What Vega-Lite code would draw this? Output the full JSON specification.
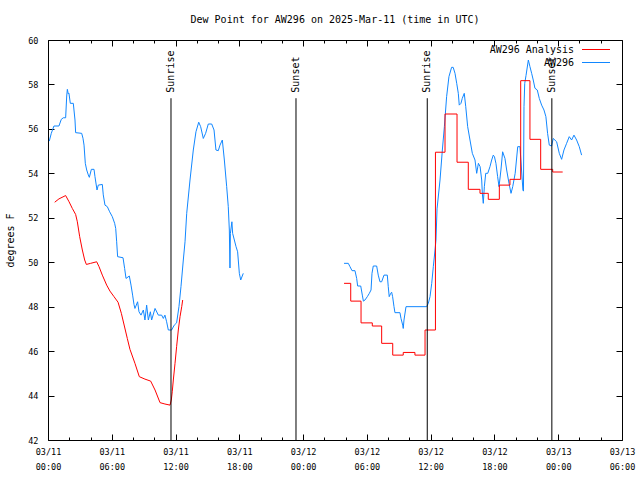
{
  "$schema": "https://vega.github.io/schema/vega-lite/v6.json",
  "width": 574,
  "height": 400,
  "autosize": "none",
  "padding": {"left": 48, "top": 40, "right": 18, "bottom": 40},
  "background": "white",
  "title": {"text": "Dew Point for AW296 on 2025-Mar-11 (time in UTC)", "font": "DejaVu Sans Mono", "fontSize": 10, "fontWeight": "normal", "color": "black", "anchor": "middle", "offset": 11},
  "config": {
    "view": {"stroke": "black", "strokeWidth": 1},
    "axis": {"domain": false, "grid": false, "tickColor": "black", "labelColor": "black", "labelFont": "DejaVu Sans Mono", "labelFontSize": 8.5, "titleFont": "DejaVu Sans Mono", "titleFontSize": 10, "titleFontWeight": "normal", "titleColor": "black"}
  },
  "datasets": {
    "obs": [
      {"series": "AW296", "seg": 1, "hour": 0.12, "dew": 55.45},
      {"series": "AW296", "seg": 1, "hour": 0.31, "dew": 55.8},
      {"series": "AW296", "seg": 1, "hour": 0.56, "dew": 56.13},
      {"series": "AW296", "seg": 1, "hour": 1.03, "dew": 56.13},
      {"series": "AW296", "seg": 1, "hour": 1.25, "dew": 56.43},
      {"series": "AW296", "seg": 1, "hour": 1.44, "dew": 56.5},
      {"series": "AW296", "seg": 1, "hour": 1.66, "dew": 56.5},
      {"series": "AW296", "seg": 1, "hour": 1.76, "dew": 57.48},
      {"series": "AW296", "seg": 1, "hour": 1.82, "dew": 57.78},
      {"series": "AW296", "seg": 1, "hour": 1.91, "dew": 57.57},
      {"series": "AW296", "seg": 1, "hour": 1.97, "dew": 57.6},
      {"series": "AW296", "seg": 1, "hour": 2.1, "dew": 57.15},
      {"series": "AW296", "seg": 1, "hour": 2.38, "dew": 57.15},
      {"series": "AW296", "seg": 1, "hour": 2.54, "dew": 56.4},
      {"series": "AW296", "seg": 1, "hour": 2.6, "dew": 55.83},
      {"series": "AW296", "seg": 1, "hour": 3.17, "dew": 55.8},
      {"series": "AW296", "seg": 1, "hour": 3.29, "dew": 55.58},
      {"series": "AW296", "seg": 1, "hour": 3.39, "dew": 55.27},
      {"series": "AW296", "seg": 1, "hour": 3.51, "dew": 54.45},
      {"series": "AW296", "seg": 1, "hour": 3.64, "dew": 54.15},
      {"series": "AW296", "seg": 1, "hour": 3.79, "dew": 53.93},
      {"series": "AW296", "seg": 1, "hour": 3.89, "dew": 53.82},
      {"series": "AW296", "seg": 1, "hour": 4.08, "dew": 54.18},
      {"series": "AW296", "seg": 1, "hour": 4.33, "dew": 54.18},
      {"series": "AW296", "seg": 1, "hour": 4.42, "dew": 53.85},
      {"series": "AW296", "seg": 1, "hour": 4.61, "dew": 53.25},
      {"series": "AW296", "seg": 1, "hour": 4.73, "dew": 53.47},
      {"series": "AW296", "seg": 1, "hour": 5.11, "dew": 53.5},
      {"series": "AW296", "seg": 1, "hour": 5.2, "dew": 53.03},
      {"series": "AW296", "seg": 1, "hour": 5.36, "dew": 52.57},
      {"series": "AW296", "seg": 1, "hour": 5.58, "dew": 52.5},
      {"series": "AW296", "seg": 1, "hour": 5.8, "dew": 52.27},
      {"series": "AW296", "seg": 1, "hour": 6.05, "dew": 52.05},
      {"series": "AW296", "seg": 1, "hour": 6.27, "dew": 51.75},
      {"series": "AW296", "seg": 1, "hour": 6.37, "dew": 51.52},
      {"series": "AW296", "seg": 1, "hour": 6.46, "dew": 50.92},
      {"series": "AW296", "seg": 1, "hour": 6.55, "dew": 50.25},
      {"series": "AW296", "seg": 1, "hour": 7.06, "dew": 50.2},
      {"series": "AW296", "seg": 1, "hour": 7.21, "dew": 49.72},
      {"series": "AW296", "seg": 1, "hour": 7.34, "dew": 49.27},
      {"series": "AW296", "seg": 1, "hour": 7.65, "dew": 49.38},
      {"series": "AW296", "seg": 1, "hour": 7.81, "dew": 48.97},
      {"series": "AW296", "seg": 1, "hour": 7.96, "dew": 48.52},
      {"series": "AW296", "seg": 1, "hour": 8.09, "dew": 48.1},
      {"series": "AW296", "seg": 1, "hour": 8.18, "dew": 47.92},
      {"series": "AW296", "seg": 1, "hour": 8.43, "dew": 48.22},
      {"series": "AW296", "seg": 1, "hour": 8.56, "dew": 47.77},
      {"series": "AW296", "seg": 1, "hour": 8.75, "dew": 47.62},
      {"series": "AW296", "seg": 1, "hour": 8.97, "dew": 47.85},
      {"series": "AW296", "seg": 1, "hour": 9.12, "dew": 47.4},
      {"series": "AW296", "seg": 1, "hour": 9.28, "dew": 48.07},
      {"series": "AW296", "seg": 1, "hour": 9.44, "dew": 47.4},
      {"series": "AW296", "seg": 1, "hour": 9.63, "dew": 47.77},
      {"series": "AW296", "seg": 1, "hour": 9.75, "dew": 47.4},
      {"series": "AW296", "seg": 1, "hour": 10.07, "dew": 47.92},
      {"series": "AW296", "seg": 1, "hour": 10.38, "dew": 47.62},
      {"series": "AW296", "seg": 1, "hour": 10.69, "dew": 47.62},
      {"series": "AW296", "seg": 1, "hour": 10.85, "dew": 47.47},
      {"series": "AW296", "seg": 1, "hour": 11.0, "dew": 47.62},
      {"series": "AW296", "seg": 1, "hour": 11.16, "dew": 47.32},
      {"series": "AW296", "seg": 1, "hour": 11.32, "dew": 46.95},
      {"series": "AW296", "seg": 1, "hour": 11.63, "dew": 46.95},
      {"series": "AW296", "seg": 1, "hour": 11.88, "dew": 47.17},
      {"series": "AW296", "seg": 1, "hour": 12.1, "dew": 47.27},
      {"series": "AW296", "seg": 1, "hour": 12.32, "dew": 48.0},
      {"series": "AW296", "seg": 1, "hour": 12.51, "dew": 48.9},
      {"series": "AW296", "seg": 1, "hour": 12.73, "dew": 50.1},
      {"series": "AW296", "seg": 1, "hour": 12.89, "dew": 50.92},
      {"series": "AW296", "seg": 1, "hour": 13.05, "dew": 52.2},
      {"series": "AW296", "seg": 1, "hour": 13.36, "dew": 53.7},
      {"series": "AW296", "seg": 1, "hour": 13.67, "dew": 55.05},
      {"series": "AW296", "seg": 1, "hour": 13.92, "dew": 55.87},
      {"series": "AW296", "seg": 1, "hour": 14.18, "dew": 56.3},
      {"series": "AW296", "seg": 1, "hour": 14.36, "dew": 56.1},
      {"series": "AW296", "seg": 1, "hour": 14.61, "dew": 55.57},
      {"series": "AW296", "seg": 1, "hour": 14.83, "dew": 55.8},
      {"series": "AW296", "seg": 1, "hour": 15.08, "dew": 56.22},
      {"series": "AW296", "seg": 1, "hour": 15.4, "dew": 56.22},
      {"series": "AW296", "seg": 1, "hour": 15.62, "dew": 55.95},
      {"series": "AW296", "seg": 1, "hour": 15.8, "dew": 55.05},
      {"series": "AW296", "seg": 1, "hour": 16.02, "dew": 55.02},
      {"series": "AW296", "seg": 1, "hour": 16.18, "dew": 55.27},
      {"series": "AW296", "seg": 1, "hour": 16.4, "dew": 55.5},
      {"series": "AW296", "seg": 1, "hour": 16.59, "dew": 54.6},
      {"series": "AW296", "seg": 1, "hour": 16.81, "dew": 53.4},
      {"series": "AW296", "seg": 1, "hour": 16.96, "dew": 52.5},
      {"series": "AW296", "seg": 1, "hour": 17.06, "dew": 51.45},
      {"series": "AW296", "seg": 1, "hour": 17.12, "dew": 49.74},
      {"series": "AW296", "seg": 1, "hour": 17.16, "dew": 51.3},
      {"series": "AW296", "seg": 1, "hour": 17.3, "dew": 51.82},
      {"series": "AW296", "seg": 1, "hour": 17.37, "dew": 51.3},
      {"series": "AW296", "seg": 1, "hour": 17.69, "dew": 50.7},
      {"series": "AW296", "seg": 1, "hour": 17.84, "dew": 50.47},
      {"series": "AW296", "seg": 1, "hour": 18.0, "dew": 49.5},
      {"series": "AW296", "seg": 1, "hour": 18.13, "dew": 49.2},
      {"series": "AW296", "seg": 1, "hour": 18.37, "dew": 49.5},
      {"series": "AW296", "seg": 2, "hour": 27.85, "dew": 49.95},
      {"series": "AW296", "seg": 2, "hour": 28.25, "dew": 49.95},
      {"series": "AW296", "seg": 2, "hour": 28.41, "dew": 49.8},
      {"series": "AW296", "seg": 2, "hour": 28.6, "dew": 49.62},
      {"series": "AW296", "seg": 2, "hour": 28.88, "dew": 49.62},
      {"series": "AW296", "seg": 2, "hour": 29.04, "dew": 49.27},
      {"series": "AW296", "seg": 2, "hour": 29.13, "dew": 48.93},
      {"series": "AW296", "seg": 2, "hour": 29.42, "dew": 48.93},
      {"series": "AW296", "seg": 2, "hour": 29.57, "dew": 48.52},
      {"series": "AW296", "seg": 2, "hour": 29.67, "dew": 48.25},
      {"series": "AW296", "seg": 2, "hour": 29.82, "dew": 48.3},
      {"series": "AW296", "seg": 2, "hour": 30.04, "dew": 48.45},
      {"series": "AW296", "seg": 2, "hour": 30.23, "dew": 48.6},
      {"series": "AW296", "seg": 2, "hour": 30.39, "dew": 48.75},
      {"series": "AW296", "seg": 2, "hour": 30.48, "dew": 49.5},
      {"series": "AW296", "seg": 2, "hour": 30.6, "dew": 49.83},
      {"series": "AW296", "seg": 2, "hour": 30.92, "dew": 49.83},
      {"series": "AW296", "seg": 2, "hour": 31.07, "dew": 49.42},
      {"series": "AW296", "seg": 2, "hour": 31.23, "dew": 49.12},
      {"series": "AW296", "seg": 2, "hour": 31.39, "dew": 49.12},
      {"series": "AW296", "seg": 2, "hour": 31.61, "dew": 49.42},
      {"series": "AW296", "seg": 2, "hour": 31.92, "dew": 49.42},
      {"series": "AW296", "seg": 2, "hour": 32.01, "dew": 48.9},
      {"series": "AW296", "seg": 2, "hour": 32.1, "dew": 48.45},
      {"series": "AW296", "seg": 2, "hour": 32.24, "dew": 48.6},
      {"series": "AW296", "seg": 2, "hour": 32.33, "dew": 48.65},
      {"series": "AW296", "seg": 2, "hour": 32.42, "dew": 48.45},
      {"series": "AW296", "seg": 2, "hour": 32.55, "dew": 48.0},
      {"series": "AW296", "seg": 2, "hour": 32.64, "dew": 47.73},
      {"series": "AW296", "seg": 2, "hour": 33.11, "dew": 47.73},
      {"series": "AW296", "seg": 2, "hour": 33.21, "dew": 47.47},
      {"series": "AW296", "seg": 2, "hour": 33.37, "dew": 47.17},
      {"series": "AW296", "seg": 2, "hour": 33.42, "dew": 47.02},
      {"series": "AW296", "seg": 2, "hour": 33.49, "dew": 47.4},
      {"series": "AW296", "seg": 2, "hour": 33.68, "dew": 48.0},
      {"series": "AW296", "seg": 2, "hour": 35.62, "dew": 48.0},
      {"series": "AW296", "seg": 2, "hour": 35.78, "dew": 48.15},
      {"series": "AW296", "seg": 2, "hour": 35.94, "dew": 48.45},
      {"series": "AW296", "seg": 2, "hour": 36.1, "dew": 49.05},
      {"series": "AW296", "seg": 2, "hour": 36.25, "dew": 49.8},
      {"series": "AW296", "seg": 2, "hour": 36.41, "dew": 50.55},
      {"series": "AW296", "seg": 2, "hour": 36.5, "dew": 51.0},
      {"series": "AW296", "seg": 2, "hour": 36.6, "dew": 52.4},
      {"series": "AW296", "seg": 2, "hour": 36.88, "dew": 53.7},
      {"series": "AW296", "seg": 2, "hour": 37.1, "dew": 55.05},
      {"series": "AW296", "seg": 2, "hour": 37.29, "dew": 56.1},
      {"series": "AW296", "seg": 2, "hour": 37.5, "dew": 57.45},
      {"series": "AW296", "seg": 2, "hour": 37.72, "dew": 58.35},
      {"series": "AW296", "seg": 2, "hour": 37.97, "dew": 58.77},
      {"series": "AW296", "seg": 2, "hour": 38.12, "dew": 58.77},
      {"series": "AW296", "seg": 2, "hour": 38.29, "dew": 58.5},
      {"series": "AW296", "seg": 2, "hour": 38.45, "dew": 58.05},
      {"series": "AW296", "seg": 2, "hour": 38.6, "dew": 57.6},
      {"series": "AW296", "seg": 2, "hour": 38.69, "dew": 57.07},
      {"series": "AW296", "seg": 2, "hour": 38.85, "dew": 57.15},
      {"series": "AW296", "seg": 2, "hour": 38.97, "dew": 57.37},
      {"series": "AW296", "seg": 2, "hour": 39.16, "dew": 57.6},
      {"series": "AW296", "seg": 2, "hour": 39.3, "dew": 57.0},
      {"series": "AW296", "seg": 2, "hour": 39.48, "dew": 56.1},
      {"series": "AW296", "seg": 2, "hour": 39.7, "dew": 55.5},
      {"series": "AW296", "seg": 2, "hour": 39.92, "dew": 54.9},
      {"series": "AW296", "seg": 2, "hour": 40.17, "dew": 54.6},
      {"series": "AW296", "seg": 2, "hour": 40.33, "dew": 54.0},
      {"series": "AW296", "seg": 2, "hour": 40.49, "dew": 54.45},
      {"series": "AW296", "seg": 2, "hour": 40.65, "dew": 54.3},
      {"series": "AW296", "seg": 2, "hour": 40.8, "dew": 53.7},
      {"series": "AW296", "seg": 2, "hour": 40.86, "dew": 53.1},
      {"series": "AW296", "seg": 2, "hour": 40.95, "dew": 52.65},
      {"series": "AW296", "seg": 2, "hour": 41.05, "dew": 53.4},
      {"series": "AW296", "seg": 2, "hour": 41.18, "dew": 54.0},
      {"series": "AW296", "seg": 2, "hour": 41.37, "dew": 54.0},
      {"series": "AW296", "seg": 2, "hour": 41.58, "dew": 54.3},
      {"series": "AW296", "seg": 2, "hour": 41.74, "dew": 54.6},
      {"series": "AW296", "seg": 2, "hour": 41.89, "dew": 54.82},
      {"series": "AW296", "seg": 2, "hour": 42.0, "dew": 54.75},
      {"series": "AW296", "seg": 2, "hour": 42.14, "dew": 54.45},
      {"series": "AW296", "seg": 2, "hour": 42.3, "dew": 53.85},
      {"series": "AW296", "seg": 2, "hour": 42.43, "dew": 53.4},
      {"series": "AW296", "seg": 2, "hour": 42.61, "dew": 54.15},
      {"series": "AW296", "seg": 2, "hour": 42.77, "dew": 54.97},
      {"series": "AW296", "seg": 2, "hour": 42.99, "dew": 54.67},
      {"series": "AW296", "seg": 2, "hour": 43.15, "dew": 54.15},
      {"series": "AW296", "seg": 2, "hour": 43.37, "dew": 53.55},
      {"series": "AW296", "seg": 2, "hour": 43.56, "dew": 53.1},
      {"series": "AW296", "seg": 2, "hour": 43.72, "dew": 53.4},
      {"series": "AW296", "seg": 2, "hour": 43.95, "dew": 54.0},
      {"series": "AW296", "seg": 2, "hour": 44.19, "dew": 55.2},
      {"series": "AW296", "seg": 2, "hour": 44.4, "dew": 55.2},
      {"series": "AW296", "seg": 2, "hour": 44.55, "dew": 54.15},
      {"series": "AW296", "seg": 2, "hour": 44.68, "dew": 53.25},
      {"series": "AW296", "seg": 2, "hour": 44.73, "dew": 53.2},
      {"series": "AW296", "seg": 2, "hour": 44.78, "dew": 57.0},
      {"series": "AW296", "seg": 2, "hour": 44.85, "dew": 58.05},
      {"series": "AW296", "seg": 2, "hour": 44.97, "dew": 58.4},
      {"series": "AW296", "seg": 2, "hour": 45.19, "dew": 59.1},
      {"series": "AW296", "seg": 2, "hour": 45.34, "dew": 58.8},
      {"series": "AW296", "seg": 2, "hour": 45.5, "dew": 58.5},
      {"series": "AW296", "seg": 2, "hour": 45.65, "dew": 58.2},
      {"series": "AW296", "seg": 2, "hour": 45.81, "dew": 57.83},
      {"series": "AW296", "seg": 2, "hour": 46.03, "dew": 57.75},
      {"series": "AW296", "seg": 2, "hour": 46.22, "dew": 57.37},
      {"series": "AW296", "seg": 2, "hour": 46.44, "dew": 57.07},
      {"series": "AW296", "seg": 2, "hour": 46.66, "dew": 56.85},
      {"series": "AW296", "seg": 2, "hour": 46.84, "dew": 56.55},
      {"series": "AW296", "seg": 2, "hour": 47.0, "dew": 55.8},
      {"series": "AW296", "seg": 2, "hour": 47.16, "dew": 55.27},
      {"series": "AW296", "seg": 2, "hour": 47.38, "dew": 55.23},
      {"series": "AW296", "seg": 2, "hour": 47.53, "dew": 55.57},
      {"series": "AW296", "seg": 2, "hour": 47.85, "dew": 55.42},
      {"series": "AW296", "seg": 2, "hour": 48.1, "dew": 54.9},
      {"series": "AW296", "seg": 2, "hour": 48.32, "dew": 54.63},
      {"series": "AW296", "seg": 2, "hour": 48.54, "dew": 55.05},
      {"series": "AW296", "seg": 2, "hour": 48.79, "dew": 55.35},
      {"series": "AW296", "seg": 2, "hour": 49.04, "dew": 55.65},
      {"series": "AW296", "seg": 2, "hour": 49.26, "dew": 55.5},
      {"series": "AW296", "seg": 2, "hour": 49.48, "dew": 55.72},
      {"series": "AW296", "seg": 2, "hour": 49.73, "dew": 55.5},
      {"series": "AW296", "seg": 2, "hour": 49.98, "dew": 55.2},
      {"series": "AW296", "seg": 2, "hour": 50.2, "dew": 54.82}
    ],
    "analysis1": [
      {"series": "AW296 Analysis", "hour": 0.63, "dew": 52.7},
      {"series": "AW296 Analysis", "hour": 1.03, "dew": 52.85},
      {"series": "AW296 Analysis", "hour": 1.66, "dew": 53.0},
      {"series": "AW296 Analysis", "hour": 1.98, "dew": 52.72},
      {"series": "AW296 Analysis", "hour": 2.29, "dew": 52.42},
      {"series": "AW296 Analysis", "hour": 2.6, "dew": 52.15},
      {"series": "AW296 Analysis", "hour": 2.76, "dew": 51.82},
      {"series": "AW296 Analysis", "hour": 2.98, "dew": 51.15},
      {"series": "AW296 Analysis", "hour": 3.23, "dew": 50.55},
      {"series": "AW296 Analysis", "hour": 3.45, "dew": 50.1},
      {"series": "AW296 Analysis", "hour": 3.61, "dew": 49.9},
      {"series": "AW296 Analysis", "hour": 4.01, "dew": 49.95},
      {"series": "AW296 Analysis", "hour": 4.58, "dew": 50.02},
      {"series": "AW296 Analysis", "hour": 4.8, "dew": 49.8},
      {"series": "AW296 Analysis", "hour": 5.11, "dew": 49.42},
      {"series": "AW296 Analysis", "hour": 5.52, "dew": 48.97},
      {"series": "AW296 Analysis", "hour": 5.83, "dew": 48.7},
      {"series": "AW296 Analysis", "hour": 6.21, "dew": 48.45},
      {"series": "AW296 Analysis", "hour": 6.59, "dew": 48.2},
      {"series": "AW296 Analysis", "hour": 6.9, "dew": 47.7},
      {"series": "AW296 Analysis", "hour": 7.46, "dew": 46.57},
      {"series": "AW296 Analysis", "hour": 7.71, "dew": 46.08},
      {"series": "AW296 Analysis", "hour": 8.18, "dew": 45.45},
      {"series": "AW296 Analysis", "hour": 8.59, "dew": 44.85},
      {"series": "AW296 Analysis", "hour": 9.12, "dew": 44.74},
      {"series": "AW296 Analysis", "hour": 9.66, "dew": 44.65},
      {"series": "AW296 Analysis", "hour": 10.07, "dew": 44.25},
      {"series": "AW296 Analysis", "hour": 10.54, "dew": 43.68},
      {"series": "AW296 Analysis", "hour": 11.0, "dew": 43.62},
      {"series": "AW296 Analysis", "hour": 11.48, "dew": 43.57},
      {"series": "AW296 Analysis", "hour": 11.6, "dew": 43.8},
      {"series": "AW296 Analysis", "hour": 11.69, "dew": 44.17},
      {"series": "AW296 Analysis", "hour": 11.79, "dew": 44.7},
      {"series": "AW296 Analysis", "hour": 11.95, "dew": 45.45},
      {"series": "AW296 Analysis", "hour": 12.1, "dew": 46.2},
      {"series": "AW296 Analysis", "hour": 12.26, "dew": 46.95},
      {"series": "AW296 Analysis", "hour": 12.42, "dew": 47.55},
      {"series": "AW296 Analysis", "hour": 12.58, "dew": 48.0},
      {"series": "AW296 Analysis", "hour": 12.67, "dew": 48.3}
    ],
    "analysis2": [
      {"series": "AW296 Analysis", "hour": 27.85, "dew": 49.05},
      {"series": "AW296 Analysis", "hour": 28.48, "dew": 48.25},
      {"series": "AW296 Analysis", "hour": 29.45, "dew": 47.27},
      {"series": "AW296 Analysis", "hour": 30.51, "dew": 47.13},
      {"series": "AW296 Analysis", "hour": 31.39, "dew": 46.35},
      {"series": "AW296 Analysis", "hour": 32.43, "dew": 45.82},
      {"series": "AW296 Analysis", "hour": 33.42, "dew": 45.94},
      {"series": "AW296 Analysis", "hour": 34.52, "dew": 45.82},
      {"series": "AW296 Analysis", "hour": 35.47, "dew": 46.95},
      {"series": "AW296 Analysis", "hour": 36.45, "dew": 54.95},
      {"series": "AW296 Analysis", "hour": 37.35, "dew": 56.67},
      {"series": "AW296 Analysis", "hour": 38.48, "dew": 54.5},
      {"series": "AW296 Analysis", "hour": 39.54, "dew": 53.28},
      {"series": "AW296 Analysis", "hour": 40.64, "dew": 53.1},
      {"series": "AW296 Analysis", "hour": 41.42, "dew": 52.83},
      {"series": "AW296 Analysis", "hour": 42.46, "dew": 53.47},
      {"series": "AW296 Analysis", "hour": 43.46, "dew": 53.73},
      {"series": "AW296 Analysis", "hour": 44.47, "dew": 58.17},
      {"series": "AW296 Analysis", "hour": 45.34, "dew": 55.53},
      {"series": "AW296 Analysis", "hour": 46.35, "dew": 54.18},
      {"series": "AW296 Analysis", "hour": 47.48, "dew": 54.06},
      {"series": "AW296 Analysis", "hour": 48.42, "dew": 54.06}
    ],
    "sun": [
      {"event": "Sunrise", "hour": 11.57},
      {"event": "Sunset", "hour": 23.33},
      {"event": "Sunrise", "hour": 35.68},
      {"event": "Sunset", "hour": 47.4}
    ]
  },
  "resolve": {"axis": {"x": "independent", "y": "independent"}},
  "layer": [
    {
      "data": {"name": "obs"},
      "mark": {"type": "line", "strokeWidth": 1},
      "encoding": {
        "x": {"field": "hour", "type": "quantitative", "scale": {"domain": [0, 54], "nice": false, "zero": false},
              "axis": {"orient": "bottom", "values": [0, 6, 12, 18, 24, 30, 36, 42, 48, 54], "tickSize": -6, "labelPadding": 13, "labelBaseline": "top", "labelLineHeight": 15, "labelFlush": false, "labelOverlap": false, "title": null,
                       "labelExpr": "[datum.value < 24 ? '03/11' : (datum.value < 48 ? '03/12' : '03/13'), ((datum.value % 24) < 10 ? '0' : '') + (datum.value % 24) + ':00']"}},
        "y": {"field": "dew", "type": "quantitative", "scale": {"domain": [42, 60], "nice": false, "zero": false},
              "axis": {"orient": "left", "values": [42, 44, 46, 48, 50, 52, 54, 56, 58, 60], "tickSize": -6, "labelPadding": 16, "title": "degrees F", "titleX": -38, "titleY": 200, "titleAngle": 270, "titleBaseline": "middle", "titleAlign": "center"}},
        "color": {"field": "series", "type": "nominal",
                  "scale": {"domain": ["AW296 Analysis", "AW296"], "range": ["#ff0000", "#1187ff"]},
                  "legend": {"orient": "none", "legendX": 540.5, "legendY": 2, "title": null, "symbolType": "M-2,0H2", "symbolSize": 196, "symbolStrokeWidth": 1, "labelAlign": "right", "labelOffset": -29.5, "labelFont": "DejaVu Sans Mono", "labelFontSize": 10, "labelColor": "black", "padding": 0, "rowPadding": 0}},
        "detail": {"field": "seg", "type": "nominal"}
      }
    },
    {
      "data": {"name": "analysis1"},
      "mark": {"type": "line", "strokeWidth": 1},
      "encoding": {
        "x": {"field": "hour", "type": "quantitative", "scale": {"domain": [0, 54], "nice": false, "zero": false},
              "axis": {"orient": "top", "values": [0, 6, 12, 18, 24, 30, 36, 42, 48, 54], "tickSize": -6, "labels": false, "title": null}},
        "y": {"field": "dew", "type": "quantitative", "scale": {"domain": [42, 60], "nice": false, "zero": false},
              "axis": {"orient": "right", "values": [42, 44, 46, 48, 50, 52, 54, 56, 58, 60], "tickSize": -6, "labels": false, "title": null}},
        "color": {"field": "series", "type": "nominal"}
      }
    },
    {
      "data": {"name": "analysis2"},
      "mark": {"type": "line", "strokeWidth": 1, "interpolate": "step-after"},
      "encoding": {
        "x": {"field": "hour", "type": "quantitative", "scale": {"domain": [0, 54], "nice": false, "zero": false},
              "axis": {"orient": "bottom", "values": [2, 4, 8, 10, 14, 16, 20, 22, 26, 28, 32, 34, 38, 40, 44, 46, 50, 52], "tickSize": -3, "labels": false, "title": null}},
        "y": {"field": "dew", "type": "quantitative", "scale": {"domain": [42, 60], "nice": false, "zero": false}, "axis": null},
        "color": {"field": "series", "type": "nominal"}
      }
    },
    {
      "data": {"name": "sun"},
      "mark": {"type": "rule", "color": "black", "strokeWidth": 1},
      "encoding": {
        "x": {"field": "hour", "type": "quantitative", "scale": {"domain": [0, 54], "nice": false, "zero": false},
              "axis": {"orient": "top", "values": [2, 4, 8, 10, 14, 16, 20, 22, 26, 28, 32, 34, 38, 40, 44, 46, 50, 52], "tickSize": -3, "labels": false, "title": null}},
        "y": {"datum": 57.38, "type": "quantitative", "scale": {"domain": [42, 60], "nice": false, "zero": false}, "axis": null},
        "y2": {"datum": 42}
      }
    },
    {
      "data": {"name": "sun"},
      "mark": {"type": "text", "angle": 270, "align": "left", "baseline": "middle", "font": "DejaVu Sans Mono", "fontSize": 10, "color": "black"},
      "encoding": {
        "x": {"field": "hour", "type": "quantitative", "scale": {"domain": [0, 54], "nice": false, "zero": false}, "axis": null},
        "y": {"datum": 57.63, "type": "quantitative", "scale": {"domain": [42, 60], "nice": false, "zero": false}, "axis": null},
        "text": {"field": "event", "type": "nominal"}
      }
    }
  ]
}
